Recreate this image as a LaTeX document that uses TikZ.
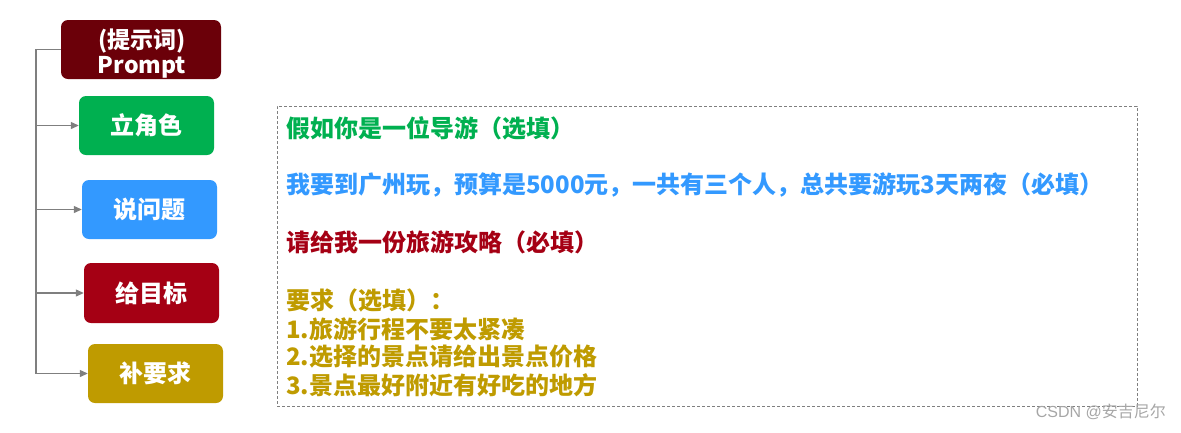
\documentclass[tikz,border=0pt]{standalone}
\usepackage{fontspec}
\setmainfont{Noto Sans CJK SC}
\newfontfamily\wmfont{Liberation Sans}
\newfontfamily\wmcjk{Noto Sans CJK SC}
\usetikzlibrary{arrows.meta}
\definecolor{cprompt}{HTML}{6B0009}
\definecolor{cgreen}{HTML}{00B050}
\definecolor{cblue}{HTML}{3399FF}
\definecolor{cred}{HTML}{A50014}
\definecolor{cgold}{HTML}{BF9B00}
\definecolor{cline}{HTML}{7F7F7F}
\definecolor{cwm}{HTML}{A6A6A6}
\tikzset{
  boxstyle/.style={rounded corners=7pt, minimum width=135pt, minimum height=59pt,
    text=white, font=\fontsize{24}{27}\selectfont\bfseries, inner sep=0pt, align=center},
  arr/.style={draw=cline, line width=1.2pt, -{Triangle[length=8pt,width=7pt]}},
  trunk/.style={draw=cline, line width=1.2pt},
  txt/.style={anchor=west, inner sep=0pt, font=\fontsize{24}{28}\selectfont\bfseries},
}
\begin{document}
\begin{tikzpicture}[x=1pt,y=-1pt]
\useasboundingbox (0,0) rectangle (1181,432);
% left boxes
\node[boxstyle, fill=cprompt, minimum width=160pt] (prompt) at (141,49.5) {};
\node[inner sep=0pt, text=white, align=center, font=\fontsize{23}{25}\selectfont\bfseries] (promptTxt) at (142,54) {(提示词)\\Prompt};
\node[boxstyle, fill=cgreen] (b1) at (146.5,125.5) {立角色};
\node[boxstyle, fill=cblue] (b2) at (149.5,209.5) {说问题};
\node[boxstyle, fill=cred, minimum height=60pt] (b3) at (151.5,293) {给目标};
\node[boxstyle, fill=cgold] (b4) at (155.5,373.5) {补要求};
% connectors
\coordinate (t0) at (36,0);
\draw[trunk] (prompt.west) -- (prompt.west -| t0) -- (b4.west -| t0);
\draw[arr] (b1.west -| t0) -- (b1.west);
\draw[arr] (b2.west -| t0) -- (b2.west);
\draw[arr] (b3.west -| t0) -- (b3.west);
\draw[arr] (b4.west -| t0) -- (b4.west);
% dashed box
\node[draw=cline, dash pattern=on 3pt off 2pt, line width=0.8pt, minimum width=860pt, minimum height=300pt, inner sep=0pt] (panel) at (707,256) {};
% texts
\node[txt, text=cgreen] (l1) at (286,128) {假如你是一位导游（选填）};
\node[txt, text=cblue] (l2) at (286,185) {我要到广州玩，预算是5000元，一共有三个人，总共要游玩3天两夜（必填）};
\node[txt, text=cred] (l3) at (286,242) {请给我一份旅游攻略（必填）};
\node[txt, text=cgold] (l4) at (286,300) {要求（选填）：};
\node[txt, text=cgold] (l5) at (286,329) {1.旅游行程不要太紧凑};
\node[txt, text=cgold] (l6) at (286,357) {2.选择的景点请给出景点价格};
\node[txt, text=cgold] (l7) at (286,385) {3.景点最好附近有好吃的地方};
% watermark
\node[anchor=east, inner sep=0pt, text=cwm, font=\fontsize{16}{18}\selectfont] (wm) at (1166,412) {\wmfont CSDN @\wmcjk 安吉尼尔};
\end{tikzpicture}
\end{document}
